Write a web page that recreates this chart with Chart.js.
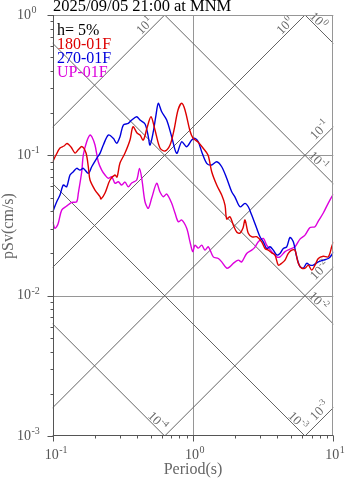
<!DOCTYPE html>
<html><head><meta charset="utf-8">
<script src="https://cdn.jsdelivr.net/npm/chart.js@4"></script>
<style>html,body{margin:0;padding:0;background:#fff;}canvas{display:block;}</style>
</head><body>
<canvas id="c" width="347" height="478"></canvas>
<script>
const titleText = "2025/09/05 21:00 at MNM";
const dampingLabel = "h= 5%";
const seriesNames = ["180-01F", "270-01F", "UP-01F"];
const seriesColors = ["#dd0000", "#0000dd", "#dd00dd"];
const xAxisTitle = "Period(s)";
const yAxisTitle = "pSv(cm/s)";

const periodsRed = [0.1,0.1056,0.1127,0.1204,0.1265,0.135,0.1442,0.1515,0.1618,0.1728,0.1794,0.1845,0.2002,0.2173,0.221,0.236,0.2561,0.278,0.2873,0.3017,0.3276,0.3556,0.3735,0.3989,0.4191,0.4424,0.47,0.5019,0.5359,0.5817,0.6316,0.6858,0.7322,0.782,0.8308,0.877,0.9519,1.0,1.0854,1.1786,1.2793,1.3594,1.4756,1.6018,1.6907,1.7385,1.835,1.937,2.0485,2.1627,2.2722,2.3478,2.4783,2.6334,2.8445,3.0873,3.2596,3.4413,3.6568,3.8415,4.0552,4.3098,4.5271,4.7799,5.0526,5.3333,5.6292,5.9552,6.2866,6.6362,7.0154,7.4064,7.8184,8.4843,9.2112,9.741,10];
const svRed = [0.09,0.1005,0.1127,0.1165,0.1214,0.1146,0.1038,0.109,0.1155,0.1038,0.0829,0.0667,0.0566,0.0507,0.0488,0.0539,0.0667,0.0724,0.07,0.0881,0.1038,0.1285,0.1599,0.1442,0.1395,0.1285,0.1565,0.1884,0.1515,0.1127,0.1073,0.1184,0.1515,0.2103,0.2348,0.2103,0.149,0.1329,0.1244,0.1127,0.1005,0.0764,0.0614,0.0521,0.0442,0.0352,0.0365,0.0319,0.0284,0.0279,0.0303,0.0346,0.0278,0.0262,0.0263,0.0242,0.0217,0.0211,0.0201,0.0195,0.0165,0.0171,0.0179,0.02,0.0211,0.0211,0.017,0.0157,0.0157,0.0165,0.0152,0.0165,0.0184,0.0191,0.0189,0.0223,0.0242];

const periodsBlue = [0.1,0.1068,0.1127,0.119,0.1258,0.1328,0.1402,0.1483,0.1565,0.1652,0.1794,0.1897,0.2059,0.2173,0.2295,0.2491,0.2704,0.2859,0.3017,0.3186,0.3457,0.3657,0.3968,0.4191,0.4549,0.4779,0.4938,0.5212,0.5448,0.5658,0.5983,0.6495,0.705,0.7652,0.8308,0.9019,0.9788,1.0335,1.091,1.1535,1.2523,1.3594,1.4756,1.6018,1.7385,1.887,1.9925,2.1627,2.3478,2.4783,2.6206,2.8445,3.003,3.1703,3.3517,3.5384,3.7356,3.9507,4.1703,4.4031,4.6554,4.9145,5.188,5.4834,5.7877,6.1123,6.4627,6.8234,7.2039,7.8184,8.4843,9.2112,9.741,10];
const svBlue = [0.0396,0.0467,0.0521,0.0614,0.0597,0.0724,0.0764,0.0808,0.0785,0.0808,0.0744,0.0829,0.0952,0.1033,0.1184,0.1395,0.1322,0.1218,0.1357,0.1644,0.169,0.1785,0.1884,0.1785,0.1671,0.1395,0.1184,0.1473,0.1937,0.2348,0.2045,0.1785,0.1357,0.1033,0.125,0.1151,0.1285,0.1322,0.125,0.1061,0.0877,0.0853,0.09,0.0829,0.0686,0.055,0.0504,0.043,0.0455,0.043,0.0375,0.0302,0.0263,0.0242,0.0217,0.0223,0.0211,0.0195,0.02,0.0217,0.0223,0.026,0.0242,0.0189,0.0161,0.0157,0.017,0.0165,0.0165,0.0174,0.0179,0.0184,0.0195,0.0206];

const periodsUp = [0.1,0.1038,0.1091,0.1159,0.1258,0.1366,0.1483,0.1522,0.161,0.1652,0.1747,0.1845,0.1906,0.2002,0.2113,0.2235,0.236,0.2491,0.2634,0.278,0.2935,0.3103,0.3276,0.3457,0.3657,0.3968,0.4155,0.4329,0.4549,0.4802,0.5077,0.551,0.5817,0.6141,0.6495,0.705,0.7441,0.7856,0.8308,0.9019,0.9519,0.9952,1.0335,1.091,1.1535,1.2176,1.2852,1.3951,1.5148,1.6018,1.7385,1.835,1.937,2.1031,2.2236,2.4137,2.6206,2.7669,2.921,3.1703,3.3517,3.6384,3.9507,4.1703,4.5271,4.9145,5.3333,5.7877,6.2866,6.8234,7.4064,7.8184,8.4843,9.2112,10];
const svUp = [0.0336,0.0302,0.0324,0.0407,0.0435,0.0462,0.0467,0.0536,0.0764,0.1005,0.125,0.1395,0.135,0.1184,0.09,0.0785,0.0724,0.0686,0.0704,0.0632,0.0648,0.0614,0.0645,0.0597,0.0635,0.0667,0.0808,0.0667,0.0467,0.0419,0.0496,0.0632,0.0548,0.0507,0.053,0.0455,0.0388,0.0336,0.0346,0.0302,0.0242,0.0206,0.0229,0.0218,0.0229,0.0211,0.0223,0.0189,0.0184,0.0174,0.0157,0.0161,0.017,0.0179,0.0174,0.02,0.0211,0.0222,0.0242,0.0256,0.0229,0.0206,0.0189,0.0189,0.0206,0.0215,0.0223,0.0253,0.027,0.0306,0.031,0.034,0.0388,0.0457,0.053];

const xTickValues = [0.1, 1, 10];
const xTickExps = ["-1", "0", "1"];
const yTickValues = [1, 0.1, 0.01, 0.001];
const yTickExps = ["0", "-1", "-2", "-3"];
const xGridValues = [1];
const yGridValues = [0.1, 0.01];
const saLines = [10, 1, 0.1, 0.01, 0.001];
const saExps = ["1", "0", "-1", "-2", "-3"];
const sdLines = [1, 0.1, 0.01, 0.001, 0.0001];
const sdExps = ["0", "-1", "-2", "-3", "-4"];

const TWO_PI = 2 * Math.PI;
const SERIF = '"Liberation Serif","Times New Roman",serif';
const zip = (t, v) => t.map((p, i) => ({x: p, y: v[i]}));

function drawPow(ctx, x, y, exp, big, small, riseBase, riseExp, align) {
  ctx.font = big + 'px ' + SERIF;
  const w1 = ctx.measureText('10').width;
  ctx.font = small + 'px ' + SERIF;
  const w2 = ctx.measureText(exp).width;
  let x0;
  if (align === 'center') x0 = x - (w1 + w2) / 2;
  else if (align === 'base-center') x0 = x - w1 / 2;
  else if (align === 'base-right') x0 = x - w1;
  else x0 = x;
  ctx.textAlign = 'left';
  ctx.textBaseline = 'alphabetic';
  ctx.font = big + 'px ' + SERIF;
  ctx.fillText('10', x0, y + riseBase);
  ctx.font = small + 'px ' + SERIF;
  ctx.fillText(exp, x0 + w1 + 0.5, y + riseExp);
}

const decor = {
  id: 'decor',
  beforeDatasetsDraw(chart) {
    const {ctx, chartArea: a, scales: {x, y}} = chart;
    const px = v => x.getPixelForValue(v), py = v => y.getPixelForValue(v);
    ctx.save();
    ctx.strokeStyle = '#969696';
    ctx.lineWidth = 1;
    ctx.beginPath();
    xGridValues.forEach(v => { const X = Math.round(px(v)) + 0.5; ctx.moveTo(X, a.top); ctx.lineTo(X, a.bottom); });
    yGridValues.forEach(v => { const Y = Math.round(py(v)) + 0.5; ctx.moveTo(a.left, Y); ctx.lineTo(a.right, Y); });
    ctx.stroke();

    ctx.save();
    ctx.beginPath();
    ctx.rect(a.left, a.top, a.right - a.left, a.bottom - a.top);
    ctx.clip();
    ctx.strokeStyle = '#646464';
    ctx.lineWidth = 1;
    ctx.beginPath();
    saLines.forEach(sa => { ctx.moveTo(px(0.01), py(sa * 0.01 / TWO_PI)); ctx.lineTo(px(100), py(sa * 100 / TWO_PI)); });
    sdLines.forEach(sd => { ctx.moveTo(px(0.01), py(TWO_PI * sd / 0.01)); ctx.lineTo(px(100), py(TWO_PI * sd / 100)); });
    ctx.stroke();
    ctx.restore();

    // diagonal labels
    ctx.fillStyle = '#6a6a6a';
    const r2 = Math.SQRT2;
    saLines.forEach((sa, i) => {
      const tTop = TWO_PI / sa;
      let ex, ey, d, p;
      if (tTop <= x.max) { ex = px(tTop); ey = py(y.max); d = 22; p = 7; }
      else { ex = px(x.max); ey = py(sa * x.max / TWO_PI); d = 12; p = 8; }
      const cx = ex - (d + p) / r2, cy = ey + (d - p) / r2;
      ctx.save(); ctx.translate(cx, cy); ctx.rotate(-Math.PI / 4);
      drawPow(ctx, 0, 0, saExps[i], 13, 9, 4.5, -1, 'center');
      ctx.restore();
    });
    sdLines.forEach((sd, i) => {
      const tBot = TWO_PI * sd / y.min;
      let ex, ey, d, p;
      if (tBot <= x.max) { ex = px(tBot); ey = py(y.min); d = 16; p = 6; }
      else { ex = px(x.max); ey = py(TWO_PI * sd / x.max); d = 27; p = 6; }
      const cx = ex - (d - p) / r2, cy = ey - (d + p) / r2;
      ctx.save(); ctx.translate(cx, cy); ctx.rotate(Math.PI / 4);
      drawPow(ctx, 0, 0, sdExps[i], 13, 9, 4.5, -1, 'center');
      ctx.restore();
    });
    ctx.restore();
  },
  afterDatasetsDraw(chart) {
    const {ctx, chartArea: a, scales: {x, y}} = chart;
    const px = v => x.getPixelForValue(v), py = v => y.getPixelForValue(v);
    ctx.save();
    ctx.lineWidth = 1;
    ctx.strokeStyle = '#969696';
    ctx.beginPath();
    ctx.moveTo(a.left, Math.round(a.top) + 0.5); ctx.lineTo(a.right, Math.round(a.top) + 0.5);
    ctx.moveTo(Math.round(a.right) - 0.5, a.top); ctx.lineTo(Math.round(a.right) - 0.5, a.bottom);
    ctx.stroke();
    ctx.strokeStyle = '#555';
    ctx.beginPath();
    const L = Math.round(a.left) + 0.5, B = Math.round(a.bottom) - 0.5;
    ctx.moveTo(L, a.top); ctx.lineTo(L, a.bottom);
    ctx.moveTo(a.left, B); ctx.lineTo(a.right, B);
    for (let e = -3; e <= 0; e++) {
      for (let m = 1; m <= 9; m++) {
        const v = m * Math.pow(10, e);
        if (v < y.min - 1e-12 || v > y.max + 1e-12) continue;
        const Y = Math.round(py(v)) + 0.5;
        const len = m === 1 ? 6 : 3;
        ctx.moveTo(L - len, Y); ctx.lineTo(L, Y);
      }
    }
    for (let e = -1; e <= 1; e++) {
      for (let m = 1; m <= 9; m++) {
        const v = m * Math.pow(10, e);
        if (v < x.min - 1e-12 || v > x.max + 1e-12) continue;
        const X = Math.round(px(v)) + 0.5;
        const len = m === 1 ? 6 : 3;
        ctx.moveTo(X, B); ctx.lineTo(X, B + len);
      }
    }
    ctx.stroke();

    ctx.fillStyle = '#555';
    yTickValues.forEach((v, i) => drawPow(ctx, 31, py(v), yTickExps[i], 14, 10, 3.5, -2, 'base-right'));
    xTickValues.forEach((v, i) => drawPow(ctx, px(v) - 1, a.bottom, xTickExps[i], 14, 10, 23, 17, 'base-center'));

    ctx.fillStyle = '#666';
    ctx.font = '16px ' + SERIF;
    ctx.textAlign = 'center';
    ctx.textBaseline = 'middle';
    ctx.fillText(xAxisTitle, (a.left + a.right) / 2, 470);
    ctx.save();
    ctx.translate(9, 226);
    ctx.rotate(-Math.PI / 2);
    ctx.fillText(yAxisTitle, 0, 0);
    ctx.restore();

    ctx.fillStyle = '#000';
    ctx.font = '16.5px ' + SERIF;
    ctx.textAlign = 'left';
    ctx.textBaseline = 'alphabetic';
    ctx.fillText(titleText, 53, 11);

    ctx.font = '16px ' + SERIF;
    ctx.fillStyle = '#000';
    ctx.fillText(dampingLabel, 57, 35);
    seriesNames.forEach((n, i) => {
      ctx.fillStyle = seriesColors[i];
      ctx.fillText(n, 57, 49 + i * 14);
    });
    ctx.restore();
  }
};

new Chart(document.getElementById('c'), {
  type: 'line',
  data: {
    datasets: [
      {label: seriesNames[0], data: zip(periodsRed, svRed), borderColor: seriesColors[0]},
      {label: seriesNames[1], data: zip(periodsBlue, svBlue), borderColor: seriesColors[1]},
      {label: seriesNames[2], data: zip(periodsUp, svUp), borderColor: seriesColors[2]}
    ].map(d => Object.assign(d, {borderWidth: 1.4, pointRadius: 0, tension: 0.3, fill: false}))
  },
  options: {
    responsive: false,
    animation: false,
    devicePixelRatio: 1,
    layout: {padding: {left: 52.7, right: 13.7, top: 15, bottom: 42}},
    plugins: {legend: {display: false}, tooltip: {enabled: false}, title: {display: false}},
    scales: {
      x: {type: 'logarithmic', min: 0.1, max: 10, display: false},
      y: {type: 'logarithmic', min: 0.001, max: 1, display: false}
    }
  },
  plugins: [decor]
});
</script>
</body></html>
